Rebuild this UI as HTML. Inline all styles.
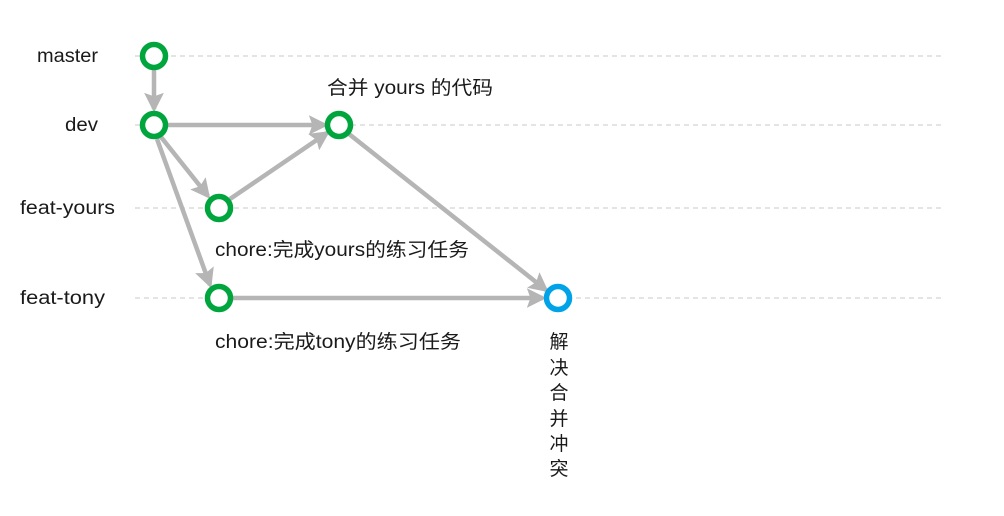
<!DOCTYPE html>
<html><head><meta charset="utf-8"><style>
html,body{margin:0;padding:0;background:#fff;}
svg{display:block;}
text{font-family:"Liberation Sans","Noto Sans CJK SC",sans-serif;font-size:19px;fill:#1a1a1a;}
</style></head><body>
<svg width="1004" height="516" viewBox="0 0 1004 516" xmlns="http://www.w3.org/2000/svg">
<defs>
<marker id="ah" markerWidth="4.4" markerHeight="4.4" refX="3.6" refY="2.2" orient="auto" markerUnits="strokeWidth">
<path d="M0,0 L4.4,2.2 L0,4.4 L0.8,2.2 z" fill="#b5b5b5"/>
</marker>
</defs>
<g stroke="#c8c8c8" stroke-width="1" stroke-dasharray="5,4">
<line x1="135" y1="56" x2="945" y2="56"/>
<line x1="135" y1="125" x2="945" y2="125"/>
<line x1="135" y1="208" x2="945" y2="208"/>
<line x1="135" y1="298" x2="945" y2="298"/>
</g>
<g stroke="#b5b5b5" stroke-width="4.5" fill="none" marker-end="url(#ah)">
<line x1="154" y1="69" x2="154" y2="109"/>
<line x1="168" y1="125" x2="325" y2="125"/>
<line x1="161" y1="137" x2="208" y2="196"/>
<line x1="157" y1="139" x2="210" y2="285"/>
<line x1="230" y1="199" x2="327" y2="133"/>
<line x1="349" y1="134" x2="546" y2="290"/>
<line x1="233" y1="298" x2="543" y2="298"/>
</g>
<g fill="#fff" stroke="#00a63d" stroke-width="5.5">
<circle cx="154" cy="56" r="11.5"/>
<circle cx="154" cy="125" r="11.5"/>
<circle cx="219" cy="208" r="11.5"/>
<circle cx="339" cy="125" r="11.5"/>
<circle cx="219" cy="298" r="11.5"/>
</g>
<circle cx="558" cy="298" r="11.5" fill="#fff" stroke="#00a3e8" stroke-width="5.5"/>
<text x="37" y="62" textLength="61" lengthAdjust="spacingAndGlyphs">master</text>
<text x="65" y="131" textLength="33" lengthAdjust="spacingAndGlyphs">dev</text>
<text x="20" y="214" textLength="95" lengthAdjust="spacingAndGlyphs">feat-yours</text>
<text x="20" y="304" textLength="85" lengthAdjust="spacingAndGlyphs">feat-tony</text>
<text x="327" y="94" textLength="166" lengthAdjust="spacingAndGlyphs">合并 yours 的代码</text>
<text x="215" y="256" textLength="254" lengthAdjust="spacingAndGlyphs">chore:完成yours的练习任务</text>
<text x="215" y="348" textLength="246" lengthAdjust="spacingAndGlyphs">chore:完成tony的练习任务</text>
<g text-anchor="middle">
<text x="559" y="348">解</text>
<text x="559" y="374">决</text>
<text x="559" y="399">合</text>
<text x="559" y="425">并</text>
<text x="559" y="450">冲</text>
<text x="559" y="475">突</text>
</g>
</svg>
</body></html>
